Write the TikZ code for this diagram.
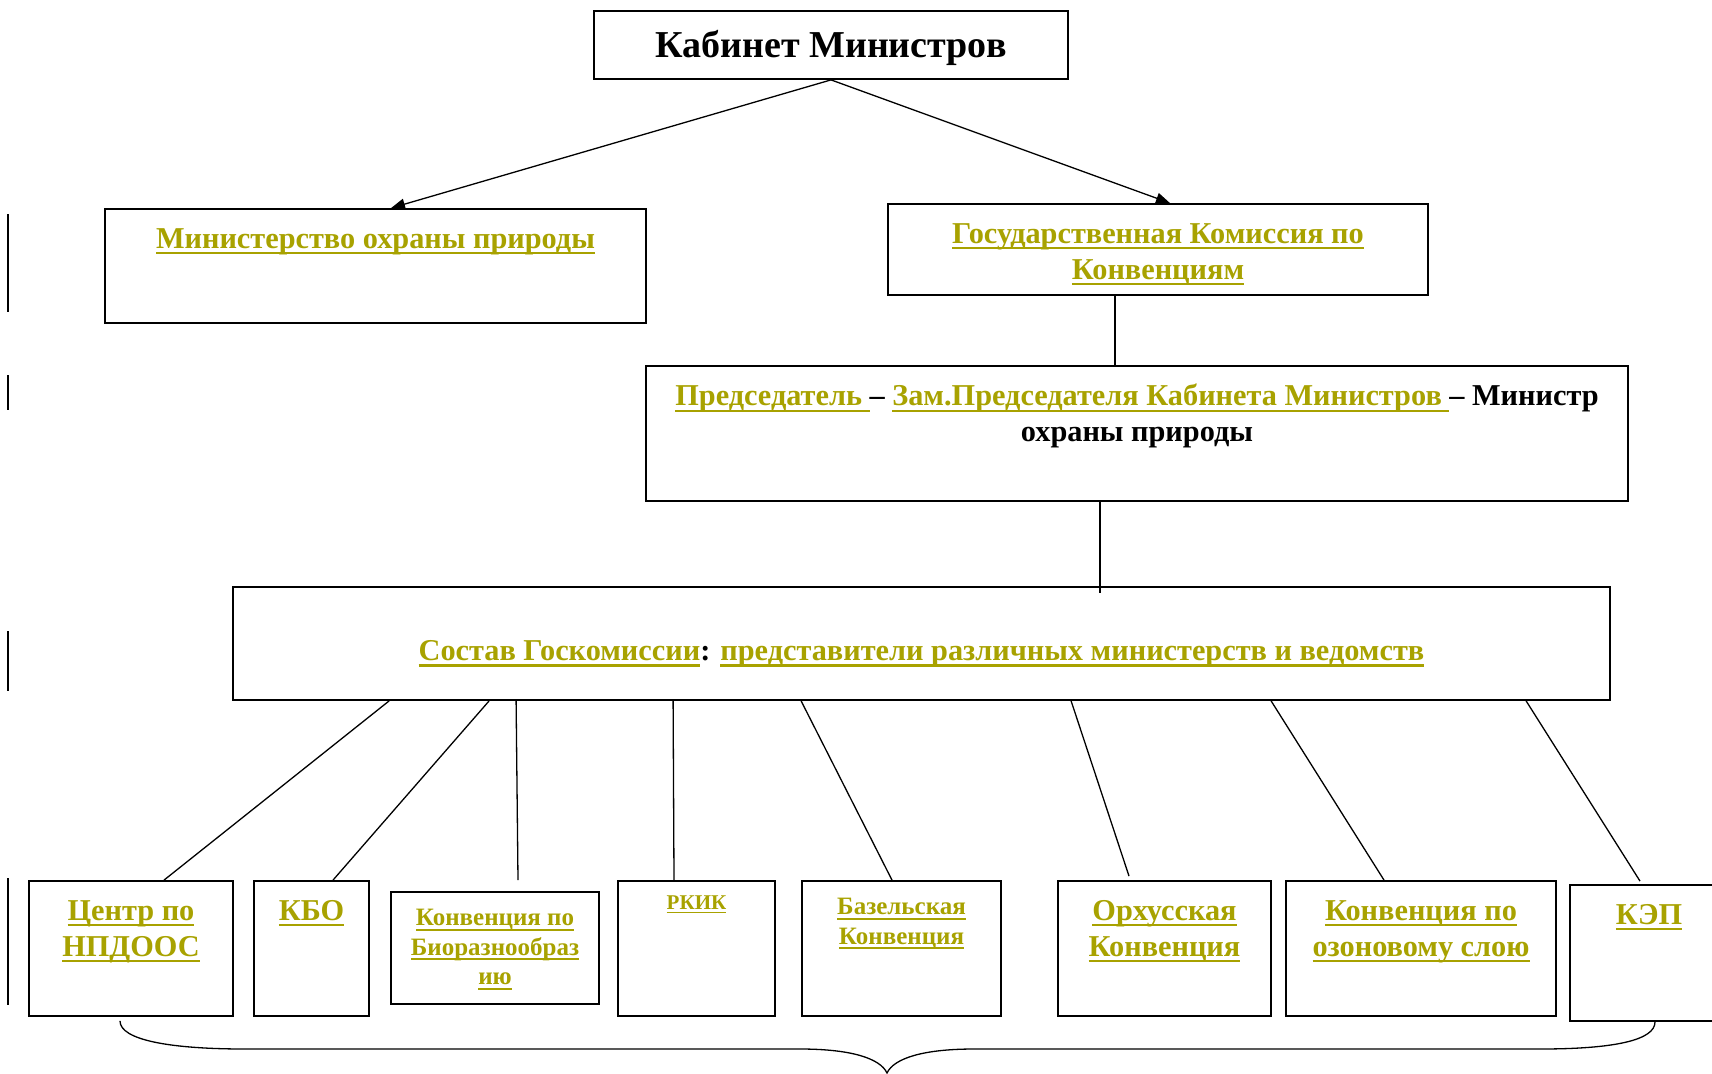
\documentclass[tikz,border=0pt]{standalone}
\usepackage{fontspec}
\setmainfont{Liberation Serif}
\usepackage{tikz}
\usetikzlibrary{arrows.meta, positioning}

\definecolor{linkcol}{RGB}{168,162,0}
\newcommand{\lnk}[1]{{\color{linkcol}\setbox0\hbox{#1}\rlap{\rule[-0.2em]{\wd0}{0.08em}}\box0}}
\newcommand{\fbig}{\fontsize{38}{43}\selectfont\bfseries}
\newcommand{\fmid}{\fontsize{30.3}{36}\selectfont\bfseries}
\newcommand{\fsml}{\fontsize{25}{29.5}\selectfont\bfseries}
\newcommand{\ftin}{\fontsize{21}{25}\selectfont\bfseries}

\begin{document}
\begin{tikzpicture}[x=1pt, y=-1pt,
    box/.style={draw, line width=1.8pt, inner sep=0pt},
    lbl/.style={inner sep=0pt, align=center},
    link/.style={line width=1.3pt}]

    \useasboundingbox (0,0) rectangle (1712,1073);

    % top levels
    \node[box, minimum width=474pt, minimum height=68pt, font=\fbig, text depth=0.3em] (kab) at (831,45) {Кабинет Министров};

    \node[box, minimum width=541pt, minimum height=114pt] (min) at (375.5,266) {};
    \node[lbl, font=\fmid, below=20pt of min.north] (mintxt) {\lnk{Министерство охраны природы}};

    \node[box, minimum width=540pt, minimum height=91pt] (gosk) at (1158,249.5) {};
    \node[lbl, font=\fmid, below=20pt of gosk.north] (gosktxt) {\lnk{Государственная Комиссия по}\\\lnk{Конвенциям}};

    \node[box, minimum width=982pt, minimum height=135pt] (chair) at (1137,433.5) {};
    \node[lbl, font=\fmid, below=19pt of chair.north] (chairtxt) {\lnk{Председатель }– \lnk{Зам.Председателя Кабинета Министров }– Министр\\охраны природы};

    \node[box, minimum width=1377pt, minimum height=113pt] (sost) at (921.5,643.5) {};
    \node[lbl, font=\fmid, yshift=-10.5pt] (sosttxt) at (sost.center) {\lnk{Состав Госкомиссии}: \lnk{представители различных министерств и ведомств}};

    \draw[link, -{Triangle[length=14pt,width=11pt]}] (kab.south) -- ([xshift=15.5pt]min.north);
    \draw[link, -{Triangle[length=14pt,width=11pt]}] (kab.south) -- ([xshift=12pt]gosk.north);
    \draw[link] ([xshift=-43pt]gosk.south) -- ([xshift=-43pt]gosk.south |- chair.north);
    \draw[link] ([xshift=-37pt]chair.south) -- ([xshift=-37pt,yshift=-7pt]chair.south |- sost.north);

    % conventions
    \node[box, minimum width=204pt, minimum height=135pt] (c1) at (131,948.5) {};
    \node[lbl, font=\fmid, below=20pt of c1.north] (c1txt) {\lnk{Центр по}\\\lnk{НПДООС}};

    \node[box, minimum width=115pt, minimum height=135pt] (c2) at (311.5,948.5) {};
    \node[lbl, font=\fmid, below=20pt of c2.north] (c2txt) {\lnk{КБО}};

    \node[box, minimum width=208pt, minimum height=112pt] (c3) at (495,948) {};
    \node[lbl, font=\fsml, below=18pt of c3.north] (c3txt) {\lnk{Конвенция по}\\\lnk{Биоразнообраз}\\\lnk{ию}};

    \node[box, minimum width=157pt, minimum height=135pt] (c4) at (696.5,948.5) {};
    \node[lbl, font=\ftin, below=15pt of c4.north] (c4txt) {\lnk{РКИК}};

    \node[box, minimum width=199pt, minimum height=135pt] (c5) at (901.5,948.5) {};
    \node[lbl, font=\fsml, below=18pt of c5.north] (c5txt) {\lnk{Базельская}\\\lnk{Конвенция}};

    \node[box, minimum width=213pt, minimum height=135pt] (c6) at (1164.5,948.5) {};
    \node[lbl, font=\fmid, below=20pt of c6.north] (c6txt) {\lnk{Орхусская}\\\lnk{Конвенция}};

    \node[box, minimum width=270pt, minimum height=135pt] (c7) at (1421,948.5) {};
    \node[lbl, font=\fmid, below=20pt of c7.north] (c7txt) {\lnk{Конвенция по}\\\lnk{озоновому слою}};

    \node[box, minimum width=170pt, minimum height=136pt] (c8) at (1655,953) {};
    \node[lbl, font=\fmid, below=20pt of c8.north, xshift=-6pt] (c8txt) {\lnk{КЭП}};

    \draw[link] ([xshift=157pt]sost.south west) -- ([xshift=33pt]c1.north);
    \draw[link] ([xshift=257pt]sost.south west) -- ([xshift=21.5pt]c2.north);
    \draw[link] ([xshift=284pt]sost.south west) -- ([xshift=23pt,yshift=11pt]c3.north);
    \draw[link] ([xshift=441pt]sost.south west) -- ([xshift=-22.5pt]c4.north);
    \draw[link] ([xshift=569pt]sost.south west) -- ([xshift=-9.5pt]c5.north);
    \draw[link] ([xshift=839pt]sost.south west) -- ([xshift=-35.5pt,yshift=4pt]c6.north);
    \draw[link] ([xshift=1039pt]sost.south west) -- ([xshift=-37pt]c7.north);
    \draw[link] ([xshift=1294pt]sost.south west) -- ([xshift=-15pt,yshift=3pt]c8.north);

    % brace under the conventions
    \coordinate (bl) at ([xshift=-11pt,yshift=-4pt]c1.south);
    \coordinate (br) at (c8.south);
    \coordinate (tip) at (887,1073);
    \draw[link] (bl) .. controls (120,1040) and (170,1049) .. (245,1049) -- (800,1049)
        .. controls (850,1049) and (880,1058) .. (tip)
        .. controls (894,1058) and (924,1049) .. (974,1049) -- (1540,1049)
        .. controls (1615,1049) and (1655,1040) .. (br);

    % margin bars
    \draw[line width=1.5pt] (8,214) -- (8,312);
    \draw[line width=1.5pt] (8,375) -- (8,410);
    \draw[line width=1.5pt] (8,631) -- (8,691);
    \draw[line width=1.5pt] (8,878) -- (8,1005);
\end{tikzpicture}
\end{document}
